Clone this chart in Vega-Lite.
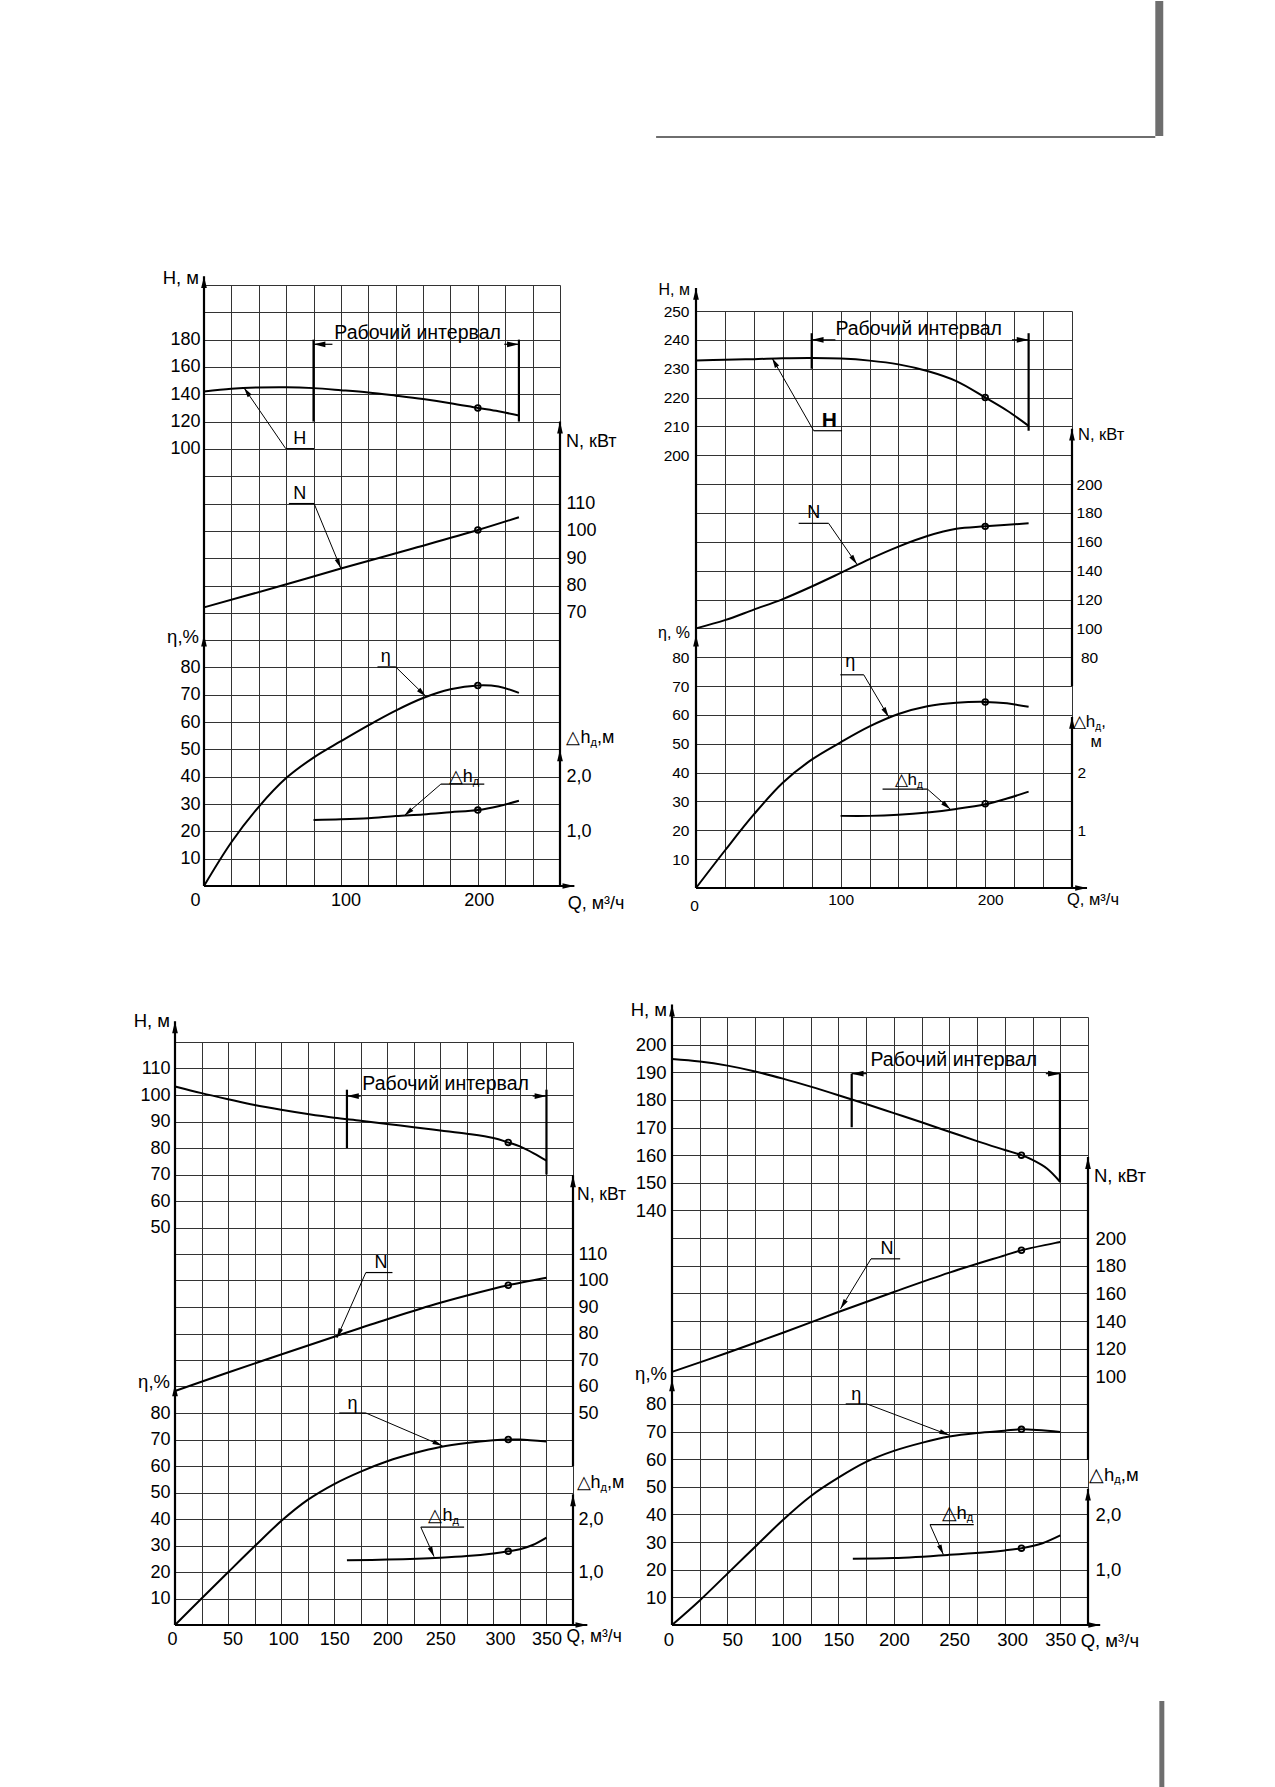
{
  "$schema": "https://vega.github.io/schema/vega-lite/v6.json",
  "autosize": {"type": "none"},
  "padding": {"left": 114, "top": 0, "right": 1161, "bottom": 1787},
  "background": "white",
  "config": {
    "view": {"stroke": null},
    "axis": {"labelColor": "black", "labelFont": "Liberation Sans"}
  },
  "datasets": {
    "a_cur": [
      {"c":"H","q":0,"v":142},{"c":"H","q":20,"v":144},{"c":"H","q":40,"v":145},{"c":"H","q":60,"v":145.2},{"c":"H","q":80,"v":144.5},{"c":"H","q":100,"v":143},{"c":"H","q":120,"v":141.3},{"c":"H","q":140,"v":139},{"c":"H","q":160,"v":136.5},{"c":"H","q":180,"v":133.5},{"c":"H","q":200,"v":130},{"c":"H","q":215,"v":127.5},{"c":"H","q":230,"v":124.5},
      {"c":"N","q":0,"v":72},{"c":"N","q":50,"v":79},{"c":"N","q":100,"v":86.2},{"c":"N","q":150,"v":93.2},{"c":"N","q":200,"v":100.3},{"c":"N","q":230,"v":105},
      {"c":"E","q":0,"v":0},{"c":"E","q":20,"v":16},{"c":"E","q":40,"v":29},{"c":"E","q":60,"v":39.5},{"c":"E","q":80,"v":47},{"c":"E","q":100,"v":53},{"c":"E","q":120,"v":58.8},{"c":"E","q":140,"v":64.2},{"c":"E","q":160,"v":68.8},{"c":"E","q":180,"v":72},{"c":"E","q":200,"v":73.4},{"c":"E","q":215,"v":73},{"c":"E","q":230,"v":70.7},
      {"c":"D","q":80,"v":1.21},{"c":"D","q":100,"v":1.22},{"c":"D","q":120,"v":1.24},{"c":"D","q":140,"v":1.28},{"c":"D","q":160,"v":1.31},{"c":"D","q":180,"v":1.35},{"c":"D","q":200,"v":1.39},{"c":"D","q":215,"v":1.46},{"c":"D","q":230,"v":1.56}
    ],
    "a_bep": [{"c":"H","q":200,"v":130},{"c":"N","q":200,"v":100.3},{"c":"E","q":200,"v":73.4},{"c":"D","q":200,"v":1.39}],
    "a_anc": [{"q":-64.93,"r":32.392,"q2":321.3,"r2":-1.79}],
    "a_thick": [{"q":0,"r":0,"q2":0,"r2":22.32},{"q":0,"r":0,"q2":270.5,"r2":0},{"q":260,"r":0,"q2":260,"r2":17},{"q":80,"r":17,"q2":80,"r2":20},{"q":230,"r":17,"q2":230,"r2":20}],
    "a_thin": [{"q":59.7,"r":16.01,"q2":80.4,"r2":16.01},{"q":62,"r":14,"q2":80.4,"r2":14},{"q":126.7,"r":8.02,"q2":140,"r2":8.02},{"q":173,"r":3.73,"q2":204.7,"r2":3.73},{"q":80,"r":19.83,"q2":93.8,"r2":19.83},{"q":219.3,"r":19.83,"q2":230,"r2":19.83}],
    "a_lead": [{"q":29.2,"r":18.24,"q2":59.7,"r2":16.01},{"q":99.9,"r":11.63,"q2":80.4,"r2":14},{"q":162,"r":6.94,"q2":140,"r2":8.02},{"q":146.2,"r":2.57,"q2":173,"r2":3.73}],
    "a_arr": [{"q":0,"r":22.32,"dir":"up"},{"q":0,"r":9.2,"dir":"up"},{"q":260,"r":17,"dir":"up"},{"q":260,"r":5,"dir":"up"},{"q":270.5,"r":0,"dir":"right"},{"q":80,"r":19.83,"dir":"left"},{"q":230,"r":19.83,"dir":"right"}],
    "a_text": [{"t":"H","q":70,"r":16.36},{"t":"N","q":70,"r":14.34},{"t":"η","q":132.8,"r":8.39},{"t":"Рабочий интервал","q":156,"r":20.25}],
    "a_tr": [{"t":"H, м","q":0,"r":22.24},{"t":"η,%","q":0,"r":9.13}],
    "a_tl": [{"t":"N, кВт","q":260,"r":16.24},{"t":"Q, м³/ч","q":261.2,"r":-0.67}],
    "a_dh": [{"q":196.2,"r":4.0},{"q":282.2,"r":5.4}],
    "a_dht": [{"t":",м","q":282.2,"r":5.4}],

    "b_cur": [
      {"c":"H","q":0,"v":232.8},{"c":"H","q":20,"v":233.1},{"c":"H","q":40,"v":233.3},{"c":"H","q":60,"v":233.6},{"c":"H","q":80,"v":233.7},{"c":"H","q":100,"v":233.5},{"c":"H","q":120,"v":232.8},{"c":"H","q":140,"v":231.5},{"c":"H","q":160,"v":229.2},{"c":"H","q":180,"v":225.7},{"c":"H","q":200,"v":220},{"c":"H","q":215,"v":215.5},{"c":"H","q":230,"v":210.2},
      {"c":"N","q":0,"v":100},{"c":"N","q":20,"v":105.7},{"c":"N","q":40,"v":113},{"c":"N","q":60,"v":120.3},{"c":"N","q":80,"v":129},{"c":"N","q":100,"v":138.4},{"c":"N","q":120,"v":148},{"c":"N","q":140,"v":156.7},{"c":"N","q":160,"v":164},{"c":"N","q":180,"v":169},{"c":"N","q":200,"v":170.7},{"c":"N","q":230,"v":172.8},
      {"c":"E","q":0,"v":0},{"c":"E","q":20,"v":13},{"c":"E","q":40,"v":25.5},{"c":"E","q":60,"v":36.5},{"c":"E","q":80,"v":44.5},{"c":"E","q":100,"v":50.5},{"c":"E","q":120,"v":56},{"c":"E","q":140,"v":60.3},{"c":"E","q":160,"v":63},{"c":"E","q":180,"v":64.2},{"c":"E","q":200,"v":64.5},{"c":"E","q":215,"v":64},{"c":"E","q":230,"v":62.8},
      {"c":"D","q":100,"v":1.25},{"c":"D","q":120,"v":1.25},{"c":"D","q":140,"v":1.27},{"c":"D","q":160,"v":1.31},{"c":"D","q":180,"v":1.37},{"c":"D","q":200,"v":1.45},{"c":"D","q":215,"v":1.55},{"c":"D","q":230,"v":1.67}
    ],
    "b_bep": [{"c":"H","q":200,"v":220},{"c":"N","q":200,"v":170.7},{"c":"E","q":200,"v":64.5},{"c":"D","q":200,"v":1.46}],
    "b_anc": [{"q":-27.59,"r":0,"q2":-27.59,"r2":-1.49}],
    "b_deco": [{"q":317.6,"r":30.742,"q2":323.1,"r2":26.066},{"q":-27.59,"r":26.066,"q2":317.6,"r2":26.0}],
    "b_thick": [{"q":0,"r":0,"q2":0,"r2":20.8},{"q":0,"r":0,"q2":270.4,"r2":0},{"q":260,"r":7,"q2":260,"r2":15.92},{"q":260,"r":0,"q2":260,"r2":5.93},{"q":80,"r":18,"q2":80,"r2":19.23},{"q":230,"r":15.85,"q2":230,"r2":19.23}],
    "b_thin": [{"q":81.4,"r":15.85,"q2":101,"r2":15.85},{"q":71,"r":12.64,"q2":91.7,"r2":12.64},{"q":99.8,"r":7.39,"q2":116,"r2":7.39},{"q":129,"r":3.43,"q2":160,"r2":3.43},{"q":80,"r":19,"q2":96.4,"r2":19},{"q":218.5,"r":19,"q2":230,"r2":19}],
    "b_lead": [{"q":52.6,"r":18.37,"q2":81.4,"r2":15.85},{"q":111.3,"r":11.22,"q2":91.7,"r2":12.64},{"q":133.2,"r":5.93,"q2":116,"r2":7.39},{"q":175.9,"r":2.73,"q2":160,"r2":3.43}],
    "b_arr": [{"q":0,"r":20.8,"dir":"up"},{"q":0,"r":8.78,"dir":"up"},{"q":260,"r":15.92,"dir":"up"},{"q":260,"r":5.93,"dir":"up"},{"q":270.4,"r":0,"dir":"right"},{"q":80,"r":19,"dir":"left"},{"q":230,"r":19,"dir":"right"}],
    "b_text": [{"t":"N","q":81.4,"r":13.0},{"t":"η","q":106.7,"r":7.83},{"t":"Рабочий интервал","q":154,"r":19.37}],
    "b_bold": [{"t":"H","q":92.2,"r":16.2}],
    "b_tr": [{"t":"H, м","q":0,"r":20.73},{"t":"η, %","q":0,"r":8.85}],
    "b_tl": [{"t":"N, кВт","q":260,"r":15.7},{"t":"Q, м³/ч","q":252.4,"r":-0.41},{"t":"м","q":268.6,"r":5.06}],
    "b_dh": [{"q":152.8,"r":3.75},{"q":276.1,"r":5.74}],
    "b_dht": [{"t":",","q":276.1,"r":5.74}],

    "c_cur": [
      {"c":"H","q":0,"v":103.2},{"c":"H","q":25,"v":100.7},{"c":"H","q":50,"v":98.4},{"c":"H","q":75,"v":96.2},{"c":"H","q":100,"v":94.4},{"c":"H","q":125,"v":92.8},{"c":"H","q":150,"v":91.4},{"c":"H","q":175,"v":90.3},{"c":"H","q":200,"v":89.1},{"c":"H","q":225,"v":87.8},{"c":"H","q":250,"v":86.6},{"c":"H","q":275,"v":85.4},{"c":"H","q":300,"v":83.8},{"c":"H","q":314,"v":82.1},{"c":"H","q":325,"v":80.6},{"c":"H","q":338,"v":78},{"c":"H","q":350,"v":75.2},
      {"c":"N","q":0,"v":58.3},{"c":"N","q":50,"v":65.3},{"c":"N","q":100,"v":72.1},{"c":"N","q":150,"v":78.8},{"c":"N","q":200,"v":85.4},{"c":"N","q":250,"v":91.6},{"c":"N","q":300,"v":96.9},{"c":"N","q":314,"v":98.2},{"c":"N","q":350,"v":101},
      {"c":"E","q":0,"v":0},{"c":"E","q":25,"v":10},{"c":"E","q":50,"v":19.9},{"c":"E","q":75,"v":29.7},{"c":"E","q":100,"v":39.2},{"c":"E","q":125,"v":47.2},{"c":"E","q":150,"v":53.2},{"c":"E","q":175,"v":57.9},{"c":"E","q":200,"v":61.8},{"c":"E","q":225,"v":64.8},{"c":"E","q":250,"v":67.2},{"c":"E","q":275,"v":68.7},{"c":"E","q":300,"v":69.7},{"c":"E","q":314,"v":70},{"c":"E","q":325,"v":70},{"c":"E","q":350,"v":69.2},
      {"c":"D","q":162,"v":1.22},{"c":"D","q":200,"v":1.235},{"c":"D","q":250,"v":1.27},{"c":"D","q":275,"v":1.3},{"c":"D","q":300,"v":1.35},{"c":"D","q":314,"v":1.39},{"c":"D","q":325,"v":1.43},{"c":"D","q":337,"v":1.51},{"c":"D","q":350,"v":1.65}
    ],
    "c_bep": [{"c":"H","q":314,"v":82.1},{"c":"N","q":314,"v":98.2},{"c":"E","q":314,"v":70},{"c":"D","q":314,"v":1.39}],
    "c_anc": [{"q":-56.44,"r":26.034,"q2":425.79,"r2":-1.13}],
    "c_thick": [{"q":0,"r":0,"q2":0,"r2":22.78},{"q":0,"r":0,"q2":388.5,"r2":0},{"q":375,"r":6,"q2":375,"r2":16.97},{"q":375,"r":0,"q2":375,"r2":4.93},{"q":162,"r":18,"q2":162,"r2":20.2},{"q":350,"r":17,"q2":350,"r2":20.2}],
    "c_thin": [{"q":179.8,"r":13.3,"q2":204.9,"r2":13.3},{"q":154.7,"r":8,"q2":179.8,"r2":8},{"q":231.6,"r":3.69,"q2":272.4,"r2":3.69},{"q":162,"r":19.96,"q2":175,"r2":19.96},{"q":337,"r":19.96,"q2":350,"r2":19.96}],
    "c_lead": [{"q":152.5,"r":10.83,"q2":179.8,"r2":13.3},{"q":252,"r":6.76,"q2":179.8,"r2":8},{"q":244.1,"r":2.58,"q2":231.6,"r2":3.69}],
    "c_arr": [{"q":0,"r":22.78,"dir":"up"},{"q":0,"r":9.08,"dir":"up"},{"q":375,"r":16.97,"dir":"up"},{"q":375,"r":4.93,"dir":"up"},{"q":388.5,"r":0,"dir":"right"},{"q":162,"r":19.96,"dir":"left"},{"q":350,"r":19.96,"dir":"right"}],
    "c_text": [{"t":"N","q":194,"r":13.65},{"t":"η","q":167.3,"r":8.33},{"t":"Рабочий интервал","q":255,"r":20.4}],
    "c_tr": [{"t":"H, м","q":0,"r":22.78},{"t":"η,%","q":0,"r":9.16}],
    "c_tl": [{"t":"N, кВт","q":375,"r":16.22},{"t":"Q, м³/ч","q":365.2,"r":-0.46}],
    "c_dh": [{"q":261.4,"r":4.1},{"q":401,"r":5.35}],
    "c_dht": [{"t":",м","q":401,"r":5.35}],

    "d_cur": [
      {"c":"H","q":0,"v":194.8},{"c":"H","q":25,"v":193.9},{"c":"H","q":50,"v":192.4},{"c":"H","q":75,"v":190.3},{"c":"H","q":100,"v":187.7},{"c":"H","q":125,"v":184.8},{"c":"H","q":150,"v":181.7},{"c":"H","q":175,"v":178.5},{"c":"H","q":200,"v":175.2},{"c":"H","q":225,"v":171.9},{"c":"H","q":250,"v":168.5},{"c":"H","q":275,"v":165.1},{"c":"H","q":300,"v":161.9},{"c":"H","q":315,"v":160},{"c":"H","q":325,"v":158.3},{"c":"H","q":338,"v":155.2},{"c":"H","q":350,"v":150.3},
      {"c":"N","q":0,"v":103.2},{"c":"N","q":50,"v":117},{"c":"N","q":100,"v":131.5},{"c":"N","q":150,"v":146.5},{"c":"N","q":200,"v":161},{"c":"N","q":250,"v":175},{"c":"N","q":300,"v":187.5},{"c":"N","q":315,"v":191.2},{"c":"N","q":350,"v":197.2},
      {"c":"E","q":0,"v":0},{"c":"E","q":25,"v":8.9},{"c":"E","q":50,"v":18.6},{"c":"E","q":75,"v":28.3},{"c":"E","q":100,"v":38},{"c":"E","q":125,"v":46.6},{"c":"E","q":150,"v":53.3},{"c":"E","q":175,"v":59},{"c":"E","q":200,"v":63},{"c":"E","q":225,"v":65.9},{"c":"E","q":250,"v":68.2},{"c":"E","q":275,"v":69.5},{"c":"E","q":300,"v":70.3},{"c":"E","q":315,"v":70.8},{"c":"E","q":350,"v":69.8},
      {"c":"D","q":163,"v":1.2},{"c":"D","q":200,"v":1.21},{"c":"D","q":250,"v":1.27},{"c":"D","q":300,"v":1.35},{"c":"D","q":315,"v":1.39},{"c":"D","q":334,"v":1.48},{"c":"D","q":350,"v":1.62}
    ],
    "d_bep": [{"c":"H","q":315,"v":160},{"c":"N","q":315,"v":191.2},{"c":"E","q":315,"v":70.8},{"c":"D","q":315,"v":1.39}],
    "d_anc": [{"q":-40.47,"r":24.023,"q2":0,"r2":24.023}],
    "d_deco": [{"q":439.3,"r":-2.75,"q2":443.8,"r2":-5.9}],
    "d_thick": [{"q":0,"r":0,"q2":0,"r2":22.45},{"q":0,"r":0,"q2":386,"r2":0},{"q":375,"r":5.98,"q2":375,"r2":16.93},{"q":375,"r":0,"q2":375,"r2":4.93},{"q":162,"r":18.01,"q2":162,"r2":19.95},{"q":349.7,"r":16.03,"q2":349.7,"r2":19.95}],
    "d_thin": [{"q":179.4,"r":13.25,"q2":205.7,"r2":13.25},{"q":156.6,"r":8,"q2":175.6,"r2":8},{"q":232.6,"r":3.63,"q2":272,"r2":3.63},{"q":162,"r":19.95,"q2":175.6,"r2":19.95},{"q":337,"r":19.95,"q2":349.7,"r2":19.95}],
    "d_lead": [{"q":151.9,"r":11.44,"q2":179.4,"r2":13.25},{"q":250,"r":6.87,"q2":175.6,"r2":8},{"q":244.6,"r":2.55,"q2":232.6,"r2":3.63}],
    "d_arr": [{"q":0,"r":22.45,"dir":"up"},{"q":0,"r":8.89,"dir":"up"},{"q":375,"r":16.93,"dir":"up"},{"q":375,"r":4.93,"dir":"up"},{"q":386,"r":0,"dir":"right"},{"q":162,"r":19.95,"dir":"left"},{"q":349.7,"r":19.95,"dir":"right"}],
    "d_text": [{"t":"N","q":193.7,"r":13.6},{"t":"η","q":166,"r":8.32},{"t":"Рабочий интервал","q":254,"r":20.44}],
    "d_tr": [{"t":"H, м","q":0,"r":22.26},{"t":"η,%","q":0,"r":9.08}],
    "d_tl": [{"t":"N, кВт","q":375,"r":16.24},{"t":"Q, м³/ч","q":363,"r":-0.57}],
    "d_dh": [{"q":265.8,"r":4.04},{"q":398.7,"r":5.41}],
    "d_dht": [{"t":",м","q":398.7,"r":5.41}]
  },
  "columns": 3,
  "spacing": 0,
  "bounds": "full",
  "align": "none",
  "concat": [
    {"width": 1, "height": 1, "data": {"values": []}, "mark": "point"},
    {"width": 1, "height": 1, "data": {"values": []}, "mark": "point"},
    {"width": 1, "height": 1, "data": {"values": []}, "mark": "point"},
    {"width": 1, "height": 1, "data": {"values": []}, "mark": "point"},
    {
      "width": 356, "height": 601,
      "encoding": {"x": {"field": "q", "type": "quantitative", "scale": {"domain": [0, 260], "nice": false, "zero": false},
        "axis": {"values": [0,20,40,60,80,100,120,140,160,180,200,220,240,260], "grid": true, "gridColor": "#333", "gridWidth": 1, "domain": false, "ticks": false,
          "labelExpr": "datum.value % 100 == 0 ? datum.label : ''", "labelFontSize": 18, "labelPadding": 5,
          "labelOffset": {"condition": [{"test": "datum.value == 0", "value": -9}, {"test": "datum.value == 100", "value": 4.5}, {"test": "datum.value == 200", "value": 1}], "value": 0},
          "labelOverlap": false, "labelFlush": false, "labelBound": false, "title": null}}},
      "layer": [
        {"data": {"name": "a_anc"}, "mark": {"type": "rule", "opacity": 0, "strokeWidth": 0},
          "encoding": {"x2": {"field": "q2"}, "y2": {"field": "r2"}, "y": {"field": "r", "type": "quantitative", "scale": {"domain": [0, 22], "nice": false, "zero": false}, "axis": null}}},
        {"data": {"name": "a_thick"}, "mark": {"type": "rule", "color": "black", "strokeWidth": 2.2},
          "encoding": {"x2": {"field": "q2"}, "y2": {"field": "r2"},
            "y": {"field": "r", "type": "quantitative", "scale": {"domain": [0, 22], "nice": false, "zero": false},
              "axis": {"orient": "left", "values": [0,1,2,3,4,5,6,7,8,9,10,11,12,13,14,15,16,17,18,19,20,21,22], "grid": true, "gridColor": "#333", "gridWidth": 1, "labels": false, "ticks": false, "domain": false, "title": null}}}},
        {"data": {"name": "a_thin"}, "mark": {"type": "rule", "color": "black", "strokeWidth": 1.2},
          "encoding": {"x2": {"field": "q2"}, "y2": {"field": "r2"}, "y": {"field": "r", "type": "quantitative", "scale": {"domain": [0, 22], "nice": false, "zero": false}, "axis": null}}},
        {"data": {"name": "a_lead"}, "mark": {"type": "rule", "color": "black", "strokeWidth": 1},
          "encoding": {"x2": {"field": "q2"}, "y2": {"field": "r2"}, "y": {"field": "r", "type": "quantitative", "scale": {"domain": [0, 22], "nice": false, "zero": false}, "axis": null}}},
        {"data": {"name": "a_lead"}, "transform": [{"calculate": "atan2((datum.q - datum.q2) * 1.369, (datum.r - datum.r2) * 27.32) * 180 / PI", "as": "ang"}],
          "mark": {"type": "point", "shape": "M0,0L0.6,2.5L-0.6,2.5Z", "size": 64, "filled": true, "color": "black", "opacity": 1},
          "encoding": {"y": {"field": "r", "type": "quantitative", "scale": {"domain": [0, 22], "nice": false, "zero": false}, "axis": null}, "angle": {"field": "ang", "type": "quantitative", "scale": null}}},
        {"data": {"name": "a_arr"}, "transform": [{"calculate": "datum.dir == 'up' ? 0 : datum.dir == 'right' ? 90 : 270", "as": "ang"}],
          "mark": {"type": "point", "shape": "M0,0L0.6,2.5L-0.6,2.5Z", "size": 90, "filled": true, "color": "black", "opacity": 1},
          "encoding": {"y": {"field": "r", "type": "quantitative", "scale": {"domain": [0, 22], "nice": false, "zero": false}, "axis": null}, "angle": {"field": "ang", "type": "quantitative", "scale": null}}},
        {"data": {"name": "a_text"}, "mark": {"type": "text", "font": "Liberation Sans", "align": "center", "baseline": "middle", "color": "black"},
          "encoding": {"y": {"field": "r", "type": "quantitative", "scale": {"domain": [0, 22], "nice": false, "zero": false}, "axis": null}, "text": {"field": "t"},
            "size": {"condition": {"test": "length(datum.t) > 3", "value": 19.5}, "value": 18}}},
        {"data": {"name": "a_tr"}, "mark": {"type": "text", "font": "Liberation Sans", "fontSize": 18.5, "align": "right", "baseline": "middle", "dx": -5, "color": "black"},
          "encoding": {"y": {"field": "r", "type": "quantitative", "scale": {"domain": [0, 22], "nice": false, "zero": false}, "axis": null}, "text": {"field": "t"}}},
        {"data": {"name": "a_tl"}, "mark": {"type": "text", "font": "Liberation Sans", "fontSize": 18, "align": "left", "baseline": "middle", "dx": 6, "color": "black"},
          "encoding": {"y": {"field": "r", "type": "quantitative", "scale": {"domain": [0, 22], "nice": false, "zero": false}, "axis": null}, "text": {"field": "t"}}},
        {"data": {"name": "a_dh"}, "mark": {"type": "text", "font": "Liberation Sans", "fontSize": 18, "align": "right", "baseline": "middle", "color": "black"},
          "encoding": {"y": {"field": "r", "type": "quantitative", "scale": {"domain": [0, 22], "nice": false, "zero": false}, "axis": null}, "text": {"value": "△h"}}},
        {"data": {"name": "a_dh"}, "mark": {"type": "text", "font": "Liberation Sans", "fontSize": 11, "align": "left", "baseline": "middle", "dy": 5, "color": "black"},
          "encoding": {"y": {"field": "r", "type": "quantitative", "scale": {"domain": [0, 22], "nice": false, "zero": false}, "axis": null}, "text": {"value": "д"}}},
        {"data": {"name": "a_dht"}, "mark": {"type": "text", "font": "Liberation Sans", "fontSize": 18, "align": "left", "baseline": "middle", "dx": 6.5, "color": "black"},
          "encoding": {"y": {"field": "r", "type": "quantitative", "scale": {"domain": [0, 22], "nice": false, "zero": false}, "axis": null}, "text": {"field": "t"}}},
        {"layer": [
            {"data": {"name": "a_cur"}, "transform": [{"filter": "datum.c == 'H'"}], "mark": {"type": "line", "color": "black", "strokeWidth": 2, "interpolate": "catmull-rom"}},
            {"data": {"name": "a_bep"}, "transform": [{"filter": "datum.c == 'H'"}], "mark": {"type": "point", "shape": "circle", "size": 32, "filled": false, "color": "black", "strokeWidth": 1.8, "opacity": 1}}],
          "encoding": {"y": {"field": "v", "type": "quantitative", "scale": {"domain": [-220, 220], "nice": false, "zero": false},
            "axis": {"orient": "left", "values": [100,120,140,160,180], "grid": false, "ticks": false, "domain": false, "labelFontSize": 18, "labelPadding": 4, "labelOverlap": false, "title": null}}}},
        {"layer": [
            {"data": {"name": "a_cur"}, "transform": [{"filter": "datum.c == 'N'"}], "mark": {"type": "line", "color": "black", "strokeWidth": 2, "interpolate": "catmull-rom"}},
            {"data": {"name": "a_bep"}, "transform": [{"filter": "datum.c == 'N'"}], "mark": {"type": "point", "shape": "circle", "size": 32, "filled": false, "color": "black", "strokeWidth": 1.8, "opacity": 1}}],
          "encoding": {"y": {"field": "v", "type": "quantitative", "scale": {"domain": [-30, 190], "nice": false, "zero": false},
            "axis": {"orient": "right", "values": [70,80,90,100,110], "grid": false, "ticks": false, "domain": false, "labelFontSize": 18, "labelPadding": 6, "labelAlign": "left", "labelOverlap": false, "title": null}}}},
        {"layer": [
            {"data": {"name": "a_cur"}, "transform": [{"filter": "datum.c == 'E'"}], "mark": {"type": "line", "color": "black", "strokeWidth": 2, "interpolate": "catmull-rom"}},
            {"data": {"name": "a_bep"}, "transform": [{"filter": "datum.c == 'E'"}], "mark": {"type": "point", "shape": "circle", "size": 32, "filled": false, "color": "black", "strokeWidth": 1.8, "opacity": 1}}],
          "encoding": {"y": {"field": "v", "type": "quantitative", "scale": {"domain": [0, 220], "nice": false, "zero": false},
            "axis": {"orient": "left", "values": [10,20,30,40,50,60,70,80], "grid": false, "ticks": false, "domain": false, "labelFontSize": 18, "labelPadding": 4, "labelOverlap": false, "title": null}}}},
        {"layer": [
            {"data": {"name": "a_cur"}, "transform": [{"filter": "datum.c == 'D'"}], "mark": {"type": "line", "color": "black", "strokeWidth": 2, "interpolate": "catmull-rom"}},
            {"data": {"name": "a_bep"}, "transform": [{"filter": "datum.c == 'D'"}], "mark": {"type": "point", "shape": "circle", "size": 32, "filled": false, "color": "black", "strokeWidth": 1.8, "opacity": 1}}],
          "encoding": {"y": {"field": "v", "type": "quantitative", "scale": {"domain": [0, 11], "nice": false, "zero": false},
            "axis": {"orient": "right", "values": [1,2], "labelExpr": "replace(format(datum.value, '.1f'), '.', ',')", "grid": false, "ticks": false, "domain": false, "labelFontSize": 18, "labelPadding": 6, "labelAlign": "left", "labelOverlap": false, "title": null}}}}
      ],
      "resolve": {"scale": {"y": "independent"}, "axis": {"y": "independent"}}
    },
    {
      "width": 376, "height": 577,
      "encoding": {"x": {"field": "q", "type": "quantitative", "scale": {"domain": [0, 260], "nice": false, "zero": false},
        "axis": {"values": [0,20,40,60,80,100,120,140,160,180,200,220,240,260], "grid": true, "gridColor": "#333", "gridWidth": 1, "domain": false, "ticks": false,
          "labelExpr": "datum.value % 100 == 0 ? datum.label : ''", "labelFontSize": 15.5,
          "labelPadding": {"condition": {"test": "datum.value == 0", "value": 10}, "value": 4},
          "labelOffset": {"condition": [{"test": "datum.value == 0", "value": -2}, {"test": "datum.value == 200", "value": 5}], "value": 0},
          "labelOverlap": false, "labelFlush": false, "labelBound": false, "title": null}}},
      "layer": [
        {"data": {"name": "b_anc"}, "mark": {"type": "rule", "opacity": 0, "strokeWidth": 0},
          "encoding": {"x2": {"field": "q2"}, "y2": {"field": "r2"}, "y": {"field": "r", "type": "quantitative", "scale": {"domain": [0, 20], "nice": false, "zero": false}, "axis": null}}},
        {"data": {"name": "b_deco"}, "mark": {"type": "rect", "color": "#6e6e6e", "opacity": 1},
          "encoding": {"x2": {"field": "q2"}, "y2": {"field": "r2"}, "y": {"field": "r", "type": "quantitative", "scale": {"domain": [0, 20], "nice": false, "zero": false}, "axis": null}}},
        {"data": {"name": "b_thick"}, "mark": {"type": "rule", "color": "black", "strokeWidth": 2.2},
          "encoding": {"x2": {"field": "q2"}, "y2": {"field": "r2"},
            "y": {"field": "r", "type": "quantitative", "scale": {"domain": [0, 20], "nice": false, "zero": false},
              "axis": {"orient": "left", "values": [0,1,2,3,4,5,6,7,8,9,10,11,12,13,14,15,16,17,18,19,20], "grid": true, "gridColor": "#333", "gridWidth": 1, "labels": false, "ticks": false, "domain": false, "title": null}}}},
        {"data": {"name": "b_thin"}, "mark": {"type": "rule", "color": "black", "strokeWidth": 1.2},
          "encoding": {"x2": {"field": "q2"}, "y2": {"field": "r2"}, "y": {"field": "r", "type": "quantitative", "scale": {"domain": [0, 20], "nice": false, "zero": false}, "axis": null}}},
        {"data": {"name": "b_lead"}, "mark": {"type": "rule", "color": "black", "strokeWidth": 1},
          "encoding": {"x2": {"field": "q2"}, "y2": {"field": "r2"}, "y": {"field": "r", "type": "quantitative", "scale": {"domain": [0, 20], "nice": false, "zero": false}, "axis": null}}},
        {"data": {"name": "b_lead"}, "transform": [{"calculate": "atan2((datum.q - datum.q2) * 1.446, (datum.r - datum.r2) * 28.85) * 180 / PI", "as": "ang"}],
          "mark": {"type": "point", "shape": "M0,0L0.6,2.5L-0.6,2.5Z", "size": 64, "filled": true, "color": "black", "opacity": 1},
          "encoding": {"y": {"field": "r", "type": "quantitative", "scale": {"domain": [0, 20], "nice": false, "zero": false}, "axis": null}, "angle": {"field": "ang", "type": "quantitative", "scale": null}}},
        {"data": {"name": "b_arr"}, "transform": [{"calculate": "datum.dir == 'up' ? 0 : datum.dir == 'right' ? 90 : 270", "as": "ang"}],
          "mark": {"type": "point", "shape": "M0,0L0.6,2.5L-0.6,2.5Z", "size": 90, "filled": true, "color": "black", "opacity": 1},
          "encoding": {"y": {"field": "r", "type": "quantitative", "scale": {"domain": [0, 20], "nice": false, "zero": false}, "axis": null}, "angle": {"field": "ang", "type": "quantitative", "scale": null}}},
        {"data": {"name": "b_text"}, "mark": {"type": "text", "font": "Liberation Sans", "align": "center", "baseline": "middle", "color": "black"},
          "encoding": {"y": {"field": "r", "type": "quantitative", "scale": {"domain": [0, 20], "nice": false, "zero": false}, "axis": null}, "text": {"field": "t"},
            "size": {"condition": {"test": "length(datum.t) > 3", "value": 19.5}, "value": 18}}},
        {"data": {"name": "b_bold"}, "mark": {"type": "text", "font": "Liberation Sans", "fontSize": 21, "fontWeight": "bold", "align": "center", "baseline": "middle", "color": "black"},
          "encoding": {"y": {"field": "r", "type": "quantitative", "scale": {"domain": [0, 20], "nice": false, "zero": false}, "axis": null}, "text": {"field": "t"}}},
        {"data": {"name": "b_tr"}, "mark": {"type": "text", "font": "Liberation Sans", "fontSize": 16, "align": "right", "baseline": "middle", "dx": -6, "color": "black"},
          "encoding": {"y": {"field": "r", "type": "quantitative", "scale": {"domain": [0, 20], "nice": false, "zero": false}, "axis": null}, "text": {"field": "t"}}},
        {"data": {"name": "b_tl"}, "mark": {"type": "text", "font": "Liberation Sans", "fontSize": 16.5, "align": "left", "baseline": "middle", "dx": 6, "color": "black"},
          "encoding": {"y": {"field": "r", "type": "quantitative", "scale": {"domain": [0, 20], "nice": false, "zero": false}, "axis": null}, "text": {"field": "t"}}},
        {"data": {"name": "b_dh"}, "mark": {"type": "text", "font": "Liberation Sans", "fontSize": 17, "align": "right", "baseline": "middle", "color": "black"},
          "encoding": {"y": {"field": "r", "type": "quantitative", "scale": {"domain": [0, 20], "nice": false, "zero": false}, "axis": null}, "text": {"value": "△h"}}},
        {"data": {"name": "b_dh"}, "mark": {"type": "text", "font": "Liberation Sans", "fontSize": 10, "align": "left", "baseline": "middle", "dy": 5, "color": "black"},
          "encoding": {"y": {"field": "r", "type": "quantitative", "scale": {"domain": [0, 20], "nice": false, "zero": false}, "axis": null}, "text": {"value": "д"}}},
        {"data": {"name": "b_dht"}, "mark": {"type": "text", "font": "Liberation Sans", "fontSize": 16.5, "align": "left", "baseline": "middle", "dx": 6, "color": "black"},
          "encoding": {"y": {"field": "r", "type": "quantitative", "scale": {"domain": [0, 20], "nice": false, "zero": false}, "axis": null}, "text": {"field": "t"}}},
        {"layer": [
            {"data": {"name": "b_cur"}, "transform": [{"filter": "datum.c == 'H'"}], "mark": {"type": "line", "color": "black", "strokeWidth": 2, "interpolate": "catmull-rom"}},
            {"data": {"name": "b_bep"}, "transform": [{"filter": "datum.c == 'H'"}], "mark": {"type": "point", "shape": "circle", "size": 32, "filled": false, "color": "black", "strokeWidth": 1.8, "opacity": 1}}],
          "encoding": {"y": {"field": "v", "type": "quantitative", "scale": {"domain": [50, 250], "nice": false, "zero": false},
            "axis": {"orient": "left", "values": [200,210,220,230,240,250], "grid": false, "ticks": false, "domain": false, "labelFontSize": 15.5, "labelPadding": 7, "labelOverlap": false, "title": null}}}},
        {"layer": [
            {"data": {"name": "b_cur"}, "transform": [{"filter": "datum.c == 'N'"}], "mark": {"type": "line", "color": "black", "strokeWidth": 2, "interpolate": "catmull-rom"}},
            {"data": {"name": "b_bep"}, "transform": [{"filter": "datum.c == 'N'"}], "mark": {"type": "point", "shape": "circle", "size": 32, "filled": false, "color": "black", "strokeWidth": 1.8, "opacity": 1}}],
          "encoding": {"y": {"field": "v", "type": "quantitative", "scale": {"domain": [-80, 320], "nice": false, "zero": false},
            "axis": {"orient": "right", "values": [80,100,120,140,160,180,200], "grid": false, "ticks": false, "domain": false, "labelFontSize": 15.5, "labelPadding": 17, "labelAlign": "center", "labelOverlap": false, "title": null}}}},
        {"layer": [
            {"data": {"name": "b_cur"}, "transform": [{"filter": "datum.c == 'E'"}], "mark": {"type": "line", "color": "black", "strokeWidth": 2, "interpolate": "catmull-rom"}},
            {"data": {"name": "b_bep"}, "transform": [{"filter": "datum.c == 'E'"}], "mark": {"type": "point", "shape": "circle", "size": 32, "filled": false, "color": "black", "strokeWidth": 1.8, "opacity": 1}}],
          "encoding": {"y": {"field": "v", "type": "quantitative", "scale": {"domain": [0, 200], "nice": false, "zero": false},
            "axis": {"orient": "left", "values": [10,20,30,40,50,60,70,80], "grid": false, "ticks": false, "domain": false, "labelFontSize": 15.5, "labelPadding": 7, "labelOverlap": false, "title": null}}}},
        {"layer": [
            {"data": {"name": "b_cur"}, "transform": [{"filter": "datum.c == 'D'"}], "mark": {"type": "line", "color": "black", "strokeWidth": 2, "interpolate": "catmull-rom"}},
            {"data": {"name": "b_bep"}, "transform": [{"filter": "datum.c == 'D'"}], "mark": {"type": "point", "shape": "circle", "size": 32, "filled": false, "color": "black", "strokeWidth": 1.8, "opacity": 1}}],
          "encoding": {"y": {"field": "v", "type": "quantitative", "scale": {"domain": [0, 10], "nice": false, "zero": false},
            "axis": {"orient": "right", "values": [1,2], "grid": false, "ticks": false, "domain": false, "labelFontSize": 15.5, "labelPadding": 5, "labelAlign": "left", "labelOverlap": false, "title": null}}}}
      ],
      "resolve": {"scale": {"y": "independent"}, "axis": {"y": "independent"}}
    },
    {"width": 1, "height": 1, "data": {"values": []}, "mark": "point"},
    {
      "width": 398, "height": 583,
      "encoding": {"x": {"field": "q", "type": "quantitative", "scale": {"domain": [0, 375], "nice": false, "zero": false},
        "axis": {"values": [0,25,50,75,100,125,150,175,200,225,250,275,300,325,350,375], "grid": true, "gridColor": "#333", "gridWidth": 1, "domain": false, "ticks": false,
          "labelExpr": "datum.value % 50 == 0 && datum.value <= 350 ? datum.label : ''", "labelFontSize": 18, "labelPadding": 5,
          "labelOffset": {"condition": [{"test": "datum.value == 0", "value": -3}, {"test": "datum.value == 50", "value": 4.5}, {"test": "datum.value == 100", "value": 2}, {"test": "datum.value == 300", "value": 6.5}], "value": 0},
          "labelOverlap": false, "labelFlush": false, "labelBound": false, "title": null}}},
      "layer": [
        {"data": {"name": "c_anc"}, "mark": {"type": "rule", "opacity": 0, "strokeWidth": 0},
          "encoding": {"x2": {"field": "q2"}, "y2": {"field": "r2"}, "y": {"field": "r", "type": "quantitative", "scale": {"domain": [0, 22], "nice": false, "zero": false}, "axis": null}}},
        {"data": {"name": "c_thick"}, "mark": {"type": "rule", "color": "black", "strokeWidth": 2.2},
          "encoding": {"x2": {"field": "q2"}, "y2": {"field": "r2"},
            "y": {"field": "r", "type": "quantitative", "scale": {"domain": [0, 22], "nice": false, "zero": false},
              "axis": {"orient": "left", "values": [0,1,2,3,4,5,6,7,8,9,10,11,12,13,14,15,16,17,18,19,20,21,22], "grid": true, "gridColor": "#333", "gridWidth": 1, "labels": false, "ticks": false, "domain": false, "title": null}}}},
        {"data": {"name": "c_thin"}, "mark": {"type": "rule", "color": "black", "strokeWidth": 1.2},
          "encoding": {"x2": {"field": "q2"}, "y2": {"field": "r2"}, "y": {"field": "r", "type": "quantitative", "scale": {"domain": [0, 22], "nice": false, "zero": false}, "axis": null}}},
        {"data": {"name": "c_lead"}, "mark": {"type": "rule", "color": "black", "strokeWidth": 1},
          "encoding": {"x2": {"field": "q2"}, "y2": {"field": "r2"}, "y": {"field": "r", "type": "quantitative", "scale": {"domain": [0, 22], "nice": false, "zero": false}, "axis": null}}},
        {"data": {"name": "c_lead"}, "transform": [{"calculate": "atan2((datum.q - datum.q2) * 1.0613, (datum.r - datum.r2) * 26.5) * 180 / PI", "as": "ang"}],
          "mark": {"type": "point", "shape": "M0,0L0.6,2.5L-0.6,2.5Z", "size": 64, "filled": true, "color": "black", "opacity": 1},
          "encoding": {"y": {"field": "r", "type": "quantitative", "scale": {"domain": [0, 22], "nice": false, "zero": false}, "axis": null}, "angle": {"field": "ang", "type": "quantitative", "scale": null}}},
        {"data": {"name": "c_arr"}, "transform": [{"calculate": "datum.dir == 'up' ? 0 : datum.dir == 'right' ? 90 : 270", "as": "ang"}],
          "mark": {"type": "point", "shape": "M0,0L0.6,2.5L-0.6,2.5Z", "size": 90, "filled": true, "color": "black", "opacity": 1},
          "encoding": {"y": {"field": "r", "type": "quantitative", "scale": {"domain": [0, 22], "nice": false, "zero": false}, "axis": null}, "angle": {"field": "ang", "type": "quantitative", "scale": null}}},
        {"data": {"name": "c_text"}, "mark": {"type": "text", "font": "Liberation Sans", "align": "center", "baseline": "middle", "color": "black"},
          "encoding": {"y": {"field": "r", "type": "quantitative", "scale": {"domain": [0, 22], "nice": false, "zero": false}, "axis": null}, "text": {"field": "t"},
            "size": {"condition": {"test": "length(datum.t) > 3", "value": 19.5}, "value": 18}}},
        {"data": {"name": "c_tr"}, "mark": {"type": "text", "font": "Liberation Sans", "fontSize": 18.5, "align": "right", "baseline": "middle", "dx": -5, "color": "black"},
          "encoding": {"y": {"field": "r", "type": "quantitative", "scale": {"domain": [0, 22], "nice": false, "zero": false}, "axis": null}, "text": {"field": "t"}}},
        {"data": {"name": "c_tl"}, "mark": {"type": "text", "font": "Liberation Sans", "fontSize": 17.5, "align": "left", "baseline": "middle", "dx": 4, "color": "black"},
          "encoding": {"y": {"field": "r", "type": "quantitative", "scale": {"domain": [0, 22], "nice": false, "zero": false}, "axis": null}, "text": {"field": "t"}}},
        {"data": {"name": "c_dh"}, "mark": {"type": "text", "font": "Liberation Sans", "fontSize": 18, "align": "right", "baseline": "middle", "color": "black"},
          "encoding": {"y": {"field": "r", "type": "quantitative", "scale": {"domain": [0, 22], "nice": false, "zero": false}, "axis": null}, "text": {"value": "△h"}}},
        {"data": {"name": "c_dh"}, "mark": {"type": "text", "font": "Liberation Sans", "fontSize": 11, "align": "left", "baseline": "middle", "dy": 5, "color": "black"},
          "encoding": {"y": {"field": "r", "type": "quantitative", "scale": {"domain": [0, 22], "nice": false, "zero": false}, "axis": null}, "text": {"value": "д"}}},
        {"data": {"name": "c_dht"}, "mark": {"type": "text", "font": "Liberation Sans", "fontSize": 18, "align": "left", "baseline": "middle", "dx": 6.5, "color": "black"},
          "encoding": {"y": {"field": "r", "type": "quantitative", "scale": {"domain": [0, 22], "nice": false, "zero": false}, "axis": null}, "text": {"field": "t"}}},
        {"layer": [
            {"data": {"name": "c_cur"}, "transform": [{"filter": "datum.c == 'H'"}], "mark": {"type": "line", "color": "black", "strokeWidth": 2, "interpolate": "catmull-rom"}},
            {"data": {"name": "c_bep"}, "transform": [{"filter": "datum.c == 'H'"}], "mark": {"type": "point", "shape": "circle", "size": 32, "filled": false, "color": "black", "strokeWidth": 1.8, "opacity": 1}}],
          "encoding": {"y": {"field": "v", "type": "quantitative", "scale": {"domain": [-100, 120], "nice": false, "zero": false},
            "axis": {"orient": "left", "values": [50,60,70,80,90,100,110], "grid": false, "ticks": false, "domain": false, "labelFontSize": 18, "labelPadding": 5, "labelOverlap": false, "title": null}}}},
        {"layer": [
            {"data": {"name": "c_cur"}, "transform": [{"filter": "datum.c == 'N'"}], "mark": {"type": "line", "color": "black", "strokeWidth": 2, "interpolate": "catmull-rom"}},
            {"data": {"name": "c_bep"}, "transform": [{"filter": "datum.c == 'N'"}], "mark": {"type": "point", "shape": "circle", "size": 32, "filled": false, "color": "black", "strokeWidth": 1.8, "opacity": 1}}],
          "encoding": {"y": {"field": "v", "type": "quantitative", "scale": {"domain": [-30, 190], "nice": false, "zero": false},
            "axis": {"orient": "right", "values": [50,60,70,80,90,100,110], "grid": false, "ticks": false, "domain": false, "labelFontSize": 18, "labelPadding": 5, "labelAlign": "left", "labelOverlap": false, "title": null}}}},
        {"layer": [
            {"data": {"name": "c_cur"}, "transform": [{"filter": "datum.c == 'E'"}], "mark": {"type": "line", "color": "black", "strokeWidth": 2, "interpolate": "catmull-rom"}},
            {"data": {"name": "c_bep"}, "transform": [{"filter": "datum.c == 'E'"}], "mark": {"type": "point", "shape": "circle", "size": 32, "filled": false, "color": "black", "strokeWidth": 1.8, "opacity": 1}}],
          "encoding": {"y": {"field": "v", "type": "quantitative", "scale": {"domain": [0, 220], "nice": false, "zero": false},
            "axis": {"orient": "left", "values": [10,20,30,40,50,60,70,80], "grid": false, "ticks": false, "domain": false, "labelFontSize": 18, "labelPadding": 5, "labelOverlap": false, "title": null}}}},
        {"layer": [
            {"data": {"name": "c_cur"}, "transform": [{"filter": "datum.c == 'D'"}], "mark": {"type": "line", "color": "black", "strokeWidth": 2, "interpolate": "catmull-rom"}},
            {"data": {"name": "c_bep"}, "transform": [{"filter": "datum.c == 'D'"}], "mark": {"type": "point", "shape": "circle", "size": 32, "filled": false, "color": "black", "strokeWidth": 1.8, "opacity": 1}}],
          "encoding": {"y": {"field": "v", "type": "quantitative", "scale": {"domain": [0, 11], "nice": false, "zero": false},
            "axis": {"orient": "right", "values": [1,2], "labelExpr": "replace(format(datum.value, '.1f'), '.', ',')", "grid": false, "ticks": false, "domain": false, "labelFontSize": 18, "labelPadding": 5, "labelAlign": "left", "labelOverlap": false, "title": null}}}}
      ],
      "resolve": {"scale": {"y": "independent"}, "axis": {"y": "independent"}}
    },
    {
      "width": 416, "height": 608,
      "encoding": {"x": {"field": "q", "type": "quantitative", "scale": {"domain": [0, 375], "nice": false, "zero": false},
        "axis": {"values": [0,25,50,75,100,125,150,175,200,225,250,275,300,325,350,375], "grid": true, "gridColor": "#333", "gridWidth": 1, "domain": false, "ticks": false,
          "labelExpr": "datum.value % 50 == 0 && datum.value <= 350 ? datum.label : ''", "labelFontSize": 18.5, "labelPadding": 5,
          "labelOffset": {"condition": [{"test": "datum.value == 0", "value": -3.5}, {"test": "datum.value == 50", "value": 4.8}, {"test": "datum.value == 100", "value": 3}, {"test": "datum.value == 250", "value": 4.9}, {"test": "datum.value == 300", "value": 7.3}], "value": 0},
          "labelOverlap": false, "labelFlush": false, "labelBound": false, "title": null}}},
      "layer": [
        {"data": {"name": "d_anc"}, "mark": {"type": "rule", "opacity": 0, "strokeWidth": 0},
          "encoding": {"x2": {"field": "q2"}, "y2": {"field": "r2"}, "y": {"field": "r", "type": "quantitative", "scale": {"domain": [0, 22], "nice": false, "zero": false}, "axis": null}}},
        {"data": {"name": "d_deco"}, "mark": {"type": "rect", "color": "#6e6e6e", "opacity": 1},
          "encoding": {"x2": {"field": "q2"}, "y2": {"field": "r2"}, "y": {"field": "r", "type": "quantitative", "scale": {"domain": [0, 22], "nice": false, "zero": false}, "axis": null}}},
        {"data": {"name": "d_thick"}, "mark": {"type": "rule", "color": "black", "strokeWidth": 2.2},
          "encoding": {"x2": {"field": "q2"}, "y2": {"field": "r2"},
            "y": {"field": "r", "type": "quantitative", "scale": {"domain": [0, 22], "nice": false, "zero": false},
              "axis": {"orient": "left", "values": [0,1,2,3,4,5,6,7,8,9,10,11,12,13,14,15,16,17,18,19,20,21,22], "grid": true, "gridColor": "#333", "gridWidth": 1, "labels": false, "ticks": false, "domain": false, "title": null}}}},
        {"data": {"name": "d_thin"}, "mark": {"type": "rule", "color": "black", "strokeWidth": 1.2},
          "encoding": {"x2": {"field": "q2"}, "y2": {"field": "r2"}, "y": {"field": "r", "type": "quantitative", "scale": {"domain": [0, 22], "nice": false, "zero": false}, "axis": null}}},
        {"data": {"name": "d_lead"}, "mark": {"type": "rule", "color": "black", "strokeWidth": 1},
          "encoding": {"x2": {"field": "q2"}, "y2": {"field": "r2"}, "y": {"field": "r", "type": "quantitative", "scale": {"domain": [0, 22], "nice": false, "zero": false}, "axis": null}}},
        {"data": {"name": "d_lead"}, "transform": [{"calculate": "atan2((datum.q - datum.q2) * 1.1093, (datum.r - datum.r2) * 27.64) * 180 / PI", "as": "ang"}],
          "mark": {"type": "point", "shape": "M0,0L0.6,2.5L-0.6,2.5Z", "size": 64, "filled": true, "color": "black", "opacity": 1},
          "encoding": {"y": {"field": "r", "type": "quantitative", "scale": {"domain": [0, 22], "nice": false, "zero": false}, "axis": null}, "angle": {"field": "ang", "type": "quantitative", "scale": null}}},
        {"data": {"name": "d_arr"}, "transform": [{"calculate": "datum.dir == 'up' ? 0 : datum.dir == 'right' ? 90 : 270", "as": "ang"}],
          "mark": {"type": "point", "shape": "M0,0L0.6,2.5L-0.6,2.5Z", "size": 90, "filled": true, "color": "black", "opacity": 1},
          "encoding": {"y": {"field": "r", "type": "quantitative", "scale": {"domain": [0, 22], "nice": false, "zero": false}, "axis": null}, "angle": {"field": "ang", "type": "quantitative", "scale": null}}},
        {"data": {"name": "d_text"}, "mark": {"type": "text", "font": "Liberation Sans", "align": "center", "baseline": "middle", "color": "black"},
          "encoding": {"y": {"field": "r", "type": "quantitative", "scale": {"domain": [0, 22], "nice": false, "zero": false}, "axis": null}, "text": {"field": "t"},
            "size": {"condition": {"test": "length(datum.t) > 3", "value": 19.5}, "value": 18}}},
        {"data": {"name": "d_tr"}, "mark": {"type": "text", "font": "Liberation Sans", "fontSize": 18.5, "align": "right", "baseline": "middle", "dx": -5, "color": "black"},
          "encoding": {"y": {"field": "r", "type": "quantitative", "scale": {"domain": [0, 22], "nice": false, "zero": false}, "axis": null}, "text": {"field": "t"}}},
        {"data": {"name": "d_tl"}, "mark": {"type": "text", "font": "Liberation Sans", "fontSize": 18.5, "align": "left", "baseline": "middle", "dx": 6, "color": "black"},
          "encoding": {"y": {"field": "r", "type": "quantitative", "scale": {"domain": [0, 22], "nice": false, "zero": false}, "axis": null}, "text": {"field": "t"}}},
        {"data": {"name": "d_dh"}, "mark": {"type": "text", "font": "Liberation Sans", "fontSize": 18.5, "align": "right", "baseline": "middle", "color": "black"},
          "encoding": {"y": {"field": "r", "type": "quantitative", "scale": {"domain": [0, 22], "nice": false, "zero": false}, "axis": null}, "text": {"value": "△h"}}},
        {"data": {"name": "d_dh"}, "mark": {"type": "text", "font": "Liberation Sans", "fontSize": 11, "align": "left", "baseline": "middle", "dy": 5, "color": "black"},
          "encoding": {"y": {"field": "r", "type": "quantitative", "scale": {"domain": [0, 22], "nice": false, "zero": false}, "axis": null}, "text": {"value": "д"}}},
        {"data": {"name": "d_dht"}, "mark": {"type": "text", "font": "Liberation Sans", "fontSize": 18.5, "align": "left", "baseline": "middle", "dx": 6.5, "color": "black"},
          "encoding": {"y": {"field": "r", "type": "quantitative", "scale": {"domain": [0, 22], "nice": false, "zero": false}, "axis": null}, "text": {"field": "t"}}},
        {"layer": [
            {"data": {"name": "d_cur"}, "transform": [{"filter": "datum.c == 'H'"}], "mark": {"type": "line", "color": "black", "strokeWidth": 2, "interpolate": "catmull-rom"}},
            {"data": {"name": "d_bep"}, "transform": [{"filter": "datum.c == 'H'"}], "mark": {"type": "point", "shape": "circle", "size": 32, "filled": false, "color": "black", "strokeWidth": 1.8, "opacity": 1}}],
          "encoding": {"y": {"field": "v", "type": "quantitative", "scale": {"domain": [-10, 210], "nice": false, "zero": false},
            "axis": {"orient": "left", "values": [140,150,160,170,180,190,200], "grid": false, "ticks": false, "domain": false, "labelFontSize": 18.5, "labelPadding": 6, "labelOverlap": false, "title": null}}}},
        {"layer": [
            {"data": {"name": "d_cur"}, "transform": [{"filter": "datum.c == 'N'"}], "mark": {"type": "line", "color": "black", "strokeWidth": 2, "interpolate": "catmull-rom"}},
            {"data": {"name": "d_bep"}, "transform": [{"filter": "datum.c == 'N'"}], "mark": {"type": "point", "shape": "circle", "size": 32, "filled": false, "color": "black", "strokeWidth": 1.8, "opacity": 1}}],
          "encoding": {"y": {"field": "v", "type": "quantitative", "scale": {"domain": [-80, 360], "nice": false, "zero": false},
            "axis": {"orient": "right", "values": [100,120,140,160,180,200], "grid": false, "ticks": false, "domain": false, "labelFontSize": 18.5, "labelPadding": 7, "labelAlign": "left", "labelOverlap": false, "title": null}}}},
        {"layer": [
            {"data": {"name": "d_cur"}, "transform": [{"filter": "datum.c == 'E'"}], "mark": {"type": "line", "color": "black", "strokeWidth": 2, "interpolate": "catmull-rom"}},
            {"data": {"name": "d_bep"}, "transform": [{"filter": "datum.c == 'E'"}], "mark": {"type": "point", "shape": "circle", "size": 32, "filled": false, "color": "black", "strokeWidth": 1.8, "opacity": 1}}],
          "encoding": {"y": {"field": "v", "type": "quantitative", "scale": {"domain": [0, 220], "nice": false, "zero": false},
            "axis": {"orient": "left", "values": [10,20,30,40,50,60,70,80], "grid": false, "ticks": false, "domain": false, "labelFontSize": 18.5, "labelPadding": 6, "labelOverlap": false, "title": null}}}},
        {"layer": [
            {"data": {"name": "d_cur"}, "transform": [{"filter": "datum.c == 'D'"}], "mark": {"type": "line", "color": "black", "strokeWidth": 2, "interpolate": "catmull-rom"}},
            {"data": {"name": "d_bep"}, "transform": [{"filter": "datum.c == 'D'"}], "mark": {"type": "point", "shape": "circle", "size": 32, "filled": false, "color": "black", "strokeWidth": 1.8, "opacity": 1}}],
          "encoding": {"y": {"field": "v", "type": "quantitative", "scale": {"domain": [0, 11], "nice": false, "zero": false},
            "axis": {"orient": "right", "values": [1,2], "labelExpr": "replace(format(datum.value, '.1f'), '.', ',')", "grid": false, "ticks": false, "domain": false, "labelFontSize": 18.5, "labelPadding": 7, "labelAlign": "left", "labelOverlap": false, "title": null}}}}
      ],
      "resolve": {"scale": {"y": "independent"}, "axis": {"y": "independent"}}
    }
  ]
}
